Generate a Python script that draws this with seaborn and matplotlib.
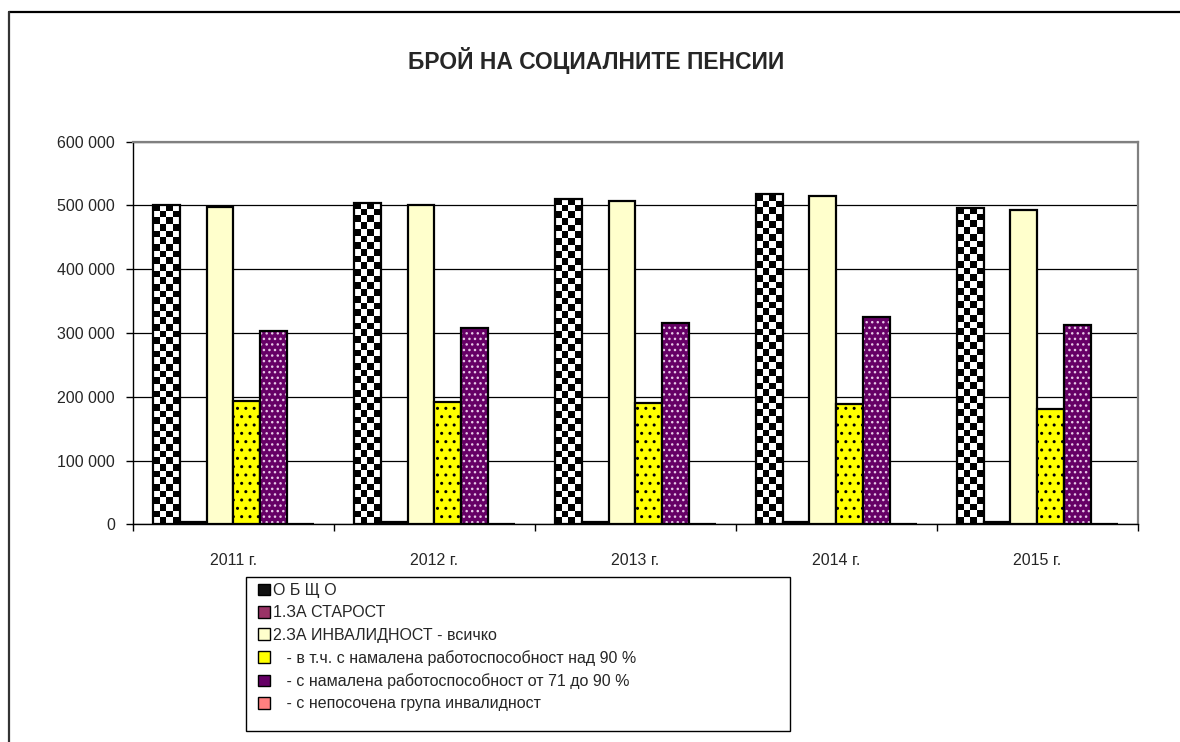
import numpy as np
import pandas as pd
import seaborn as sns
import matplotlib.pyplot as plt
from matplotlib.patches import Patch, Rectangle
from matplotlib.lines import Line2D
from matplotlib.ticker import FuncFormatter, FixedLocator

# data
years = ["2011 г.", "2012 г.", "2013 г.", "2014 г.", "2015 г."]
series = ["О Б Щ О",
          "1.ЗА СТАРОСТ",
          "2.ЗА ИНВАЛИДНОСТ - всичко",
          "   - в т.ч. с намалена работоспособност над 90 %",
          "   - с намалена работоспособност от 71 до 90 %",
          "   - с непосочена група инвалидност"]
total = [501000, 503500, 510500, 517500, 496500]
old_age = [3500, 3400, 3300, 3200, 3300]
disability = [497500, 500100, 507200, 514300, 493200]
over_90 = [193800, 191500, 190900, 189200, 180600]
from_71_90 = [303600, 308500, 316200, 325000, 312500]
unspecified = [0, 0, 0, 0, 0]

colors = ["#ffffff", "#993366", "#ffffcc", "#ffff00", "#660066", "#ff8080"]

values = [total, old_age, disability, over_90, from_71_90, unspecified]
df = pd.DataFrame({
    "year": years * len(series),
    "series": [s for s in series for _ in years],
    "value": [v for vals in values for v in vals],
})

sns.set_style("white")
plt.rcParams["font.family"] = ["Liberation Sans", "DejaVu Sans"]
plt.rcParams["hatch.linewidth"] = 1.0

W, H = 1180, 742
fig = plt.figure(figsize=(W / 100, H / 100), dpi=100)
ax = fig.add_axes([133 / W, 1 - 524.3 / H, (1137.7 - 133) / W, (524.3 - 141.7) / H])

sns.barplot(data=df, x="year", y="value", hue="series", palette=colors,
            width=0.8, edgecolor="black", linewidth=1.6, saturation=1,
            legend=False, ax=ax, zorder=2)

ax.set_ylim(0, 600000)
ax.set_xlim(-0.5, len(years) - 0.5)

# checkerboard fill for the total series
for bar in ax.containers[0]:
    x0, w, h = bar.get_x(), bar.get_width(), bar.get_height()
    px_w = w / 5 * 1004.7
    px_h = h / 600000 * 382.6
    cell = px_w / 4
    nx, ny = 4, max(1, int(round(px_h / cell)))
    chk = (np.indices((ny, nx)).sum(axis=0) % 2).astype(float)
    bar.set_facecolor("none")
    im = ax.imshow(chk, cmap="gray", extent=[x0, x0 + w, 0, h], aspect="auto",
                   interpolation="nearest", zorder=1.9)
    im.set_clip_path(bar)

# dotted fills
for bar in ax.containers[3]:
    bar.set_hatch("..")
for bar in ax.containers[4]:
    bar.set_hatch("...")
    bar.set_edgecolor("#e8c8e8")
    bar.set_linewidth(0)
    ax.add_patch(Rectangle((bar.get_x(), 0), bar.get_width(), bar.get_height(),
                           fill=False, edgecolor="black", linewidth=1.6, zorder=2.1))

ax.set_xlim(-0.5, len(years) - 0.5)
ax.set_ylim(0, 600000)

ax.yaxis.set_major_locator(FixedLocator(np.arange(0, 600001, 100000)))
ax.yaxis.set_major_formatter(FuncFormatter(lambda v, p: f"{int(v):,}".replace(",", " ")))
ax.grid(axis="y", color="black", linewidth=0.9)
ax.set_axisbelow(True)

ax.set_xticks(range(len(years)))
ax.set_xticklabels(years)
ax.xaxis.set_minor_locator(FixedLocator(np.arange(-0.5, len(years), 1)))
ax.tick_params(axis="x", which="major", length=0, pad=21, labelsize=11.5)
ax.tick_params(axis="x", which="minor", length=5, width=1, color="black", direction="out", bottom=True)
ax.tick_params(axis="y", length=5, width=1, color="black", direction="out", left=True, pad=8, labelsize=11.5)
ax.set_xlabel("")
ax.set_ylabel("")

for side in ["left", "bottom"]:
    ax.spines[side].set_color("black")
    ax.spines[side].set_linewidth(1)
for side in ["top", "right"]:
    ax.spines[side].set_visible(True)
    ax.spines[side].set_color("#808080")
    ax.spines[side].set_linewidth(1.6)

fig.text(596 / W, 1 - 60 / H, "БРОЙ НА СОЦИАЛНИТЕ ПЕНСИИ", ha="center", va="center",
         fontsize=16.5, fontweight="bold")

# outer chart frame (top and left edges)
fig.add_artist(Line2D([9 / W, 1], [1 - 12 / H, 1 - 12 / H], transform=fig.transFigure,
                      color="black", linewidth=1.6))
fig.add_artist(Line2D([9 / W, 9 / W], [0, 1 - 12 / H], transform=fig.transFigure,
                      color="#333333", linewidth=1.6))

# legend box
fig.add_artist(Rectangle((246 / W, 1 - 731 / H), (790 - 246) / W, (731 - 577) / H,
                         transform=fig.transFigure, fill=False, edgecolor="black", linewidth=1))
handles = [
    Patch(facecolor="#111111", edgecolor="black"),
    Patch(facecolor="#993366", edgecolor="black"),
    Patch(facecolor="#ffffcc", edgecolor="black"),
    Patch(facecolor="#ffff00", edgecolor="black", hatch="."),
    Patch(facecolor="#660066", edgecolor="black"),
    Patch(facecolor="#ff8080", edgecolor="black"),
]
fig.legend(handles, series, loc="upper left", bbox_to_anchor=(258 / W, 1 - 583 / H),
           frameon=False, fontsize=11.5, handlelength=0.75, handleheight=0.75,
           handletextpad=0.2, labelspacing=0.46, borderpad=0, borderaxespad=0)

fig.savefig("out.png", dpi=100, facecolor="white")
